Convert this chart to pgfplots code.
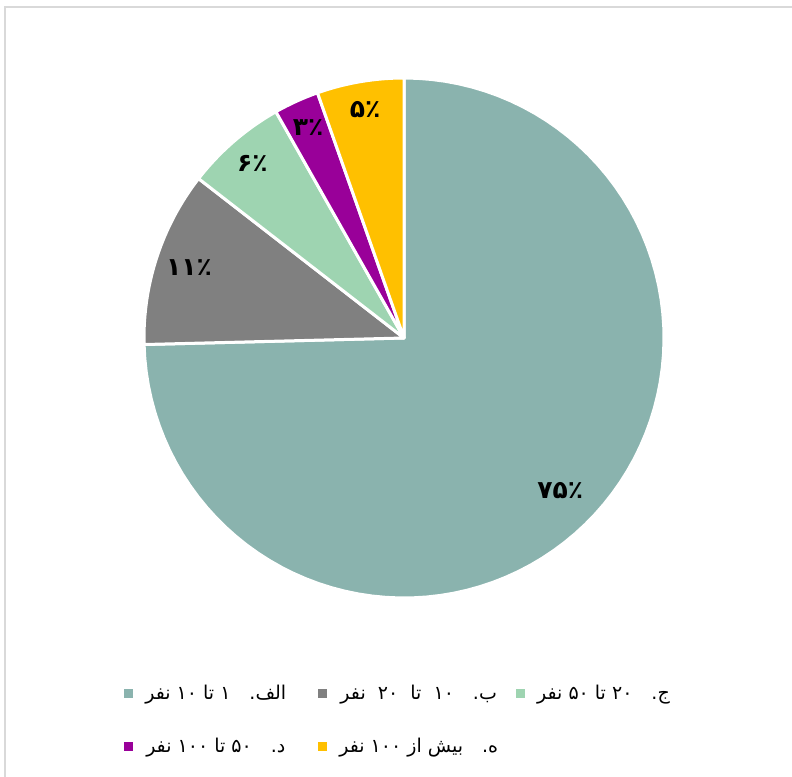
\documentclass[border=0pt]{standalone}
\usepackage{pgfplots}
\pgfplotsset{compat=1.18}
\usepackage{fontspec}
\setmainfont{DejaVu Sans}
\newfontfamily\arabicfont[Script=Arabic]{DejaVu Sans}
\TeXXeTstate=1
\definecolor{cA}{RGB}{138,179,174}
\definecolor{cB}{RGB}{128,128,128}
\definecolor{cC}{RGB}{158,212,177}
\definecolor{cD}{RGB}{153,0,153}
\definecolor{cE}{RGB}{255,192,0}
\definecolor{frame}{RGB}{217,217,217}
% slice shares in percent (cumulative: 0, 74.6, 85.5, 91.8, 94.6, 100)
\begin{document}
\begin{tikzpicture}
\useasboundingbox (0pt,0pt) rectangle (792pt,776pt);
\fill[white] (0pt,0pt) rectangle (792pt,776pt);
\draw[frame, line width=1.5pt] (5pt,-20pt) rectangle (820pt,769pt);
\begin{axis}[
  at={(404pt,438pt)}, anchor=origin,
  hide axis, scale only axis, width=520pt, height=520pt,
  xmin=-1, xmax=1, ymin=-1, ymax=1, clip=false,
  legend columns=3,
  legend style={draw=none, fill=none, at={(-0.044,-0.16)}, anchor=north west,
    font=\arabicfont\fontsize{19}{22}\selectfont,
    /tikz/every odd column/.append style={column sep=10pt},
    /tikz/column 2/.append style={column sep=30pt},
    /tikz/column 4/.append style={column sep=16pt},
    row sep=33pt},
  legend image code/.code={\fill[#1, draw=none] (0pt,-4.5pt) rectangle (9pt,4.5pt);},
  slice/.style={draw=white, line width=3pt, line join=round, data cs=polar, samples=90, variable=\t},
]
\addplot[slice, fill=cA, domain={90-3.6*74.6}:{90-3.6*0}] ({\t},{1}) -- (axis cs:0,0) -- cycle;
\addlegendentry{\beginR الف.\quad ۱ تا ۱۰ نفر\endR}
\addplot[slice, fill=cB, domain={90-3.6*85.5}:{90-3.6*74.6}] ({\t},{1}) -- (axis cs:0,0) -- cycle;
\addlegendentry{\beginR ب.\quad ۱۰ \ تا \ ۲۰ \ نفر\endR}
\addplot[slice, fill=cC, domain={90-3.6*91.8}:{90-3.6*85.5}] ({\t},{1}) -- (axis cs:0,0) -- cycle;
\addlegendentry{\beginR ج.\quad ۲۰ تا ۵۰ نفر\endR}
\addplot[slice, fill=cD, domain={90-3.6*94.6}:{90-3.6*91.8}] ({\t},{1}) -- (axis cs:0,0) -- cycle;
\addlegendentry{\beginR د.\quad ۵۰ تا ۱۰۰ نفر\endR}
\addplot[slice, fill=cE, domain={90-3.6*100}:{90-3.6*94.6}] ({\t},{1}) -- (axis cs:0,0) -- cycle;
\addlegendentry{\beginR ه.\quad بیش از ۱۰۰ نفر\endR}

\begin{scope}[every node/.style={font=\arabicfont\bfseries\fontsize{25}{30}\selectfont}]
\node at (axis cs:{0.84*cos(-44.3)},{0.84*sin(-44.3)}) {۷۵٪};
\node at (axis cs:{0.87*cos(161.8)},{0.87*sin(161.8)}) {۱۱٪};
\node at (axis cs:{0.89*cos(130.9)},{0.89*sin(130.9)}) {۶٪};
\node at (axis cs:{0.89*cos(114.5)},{0.89*sin(114.5)}) {۳٪};
\node at (axis cs:{0.89*cos(99.7)},{0.89*sin(99.7)}) {۵٪};
\end{scope}
\end{axis}
\end{tikzpicture}
\end{document}
